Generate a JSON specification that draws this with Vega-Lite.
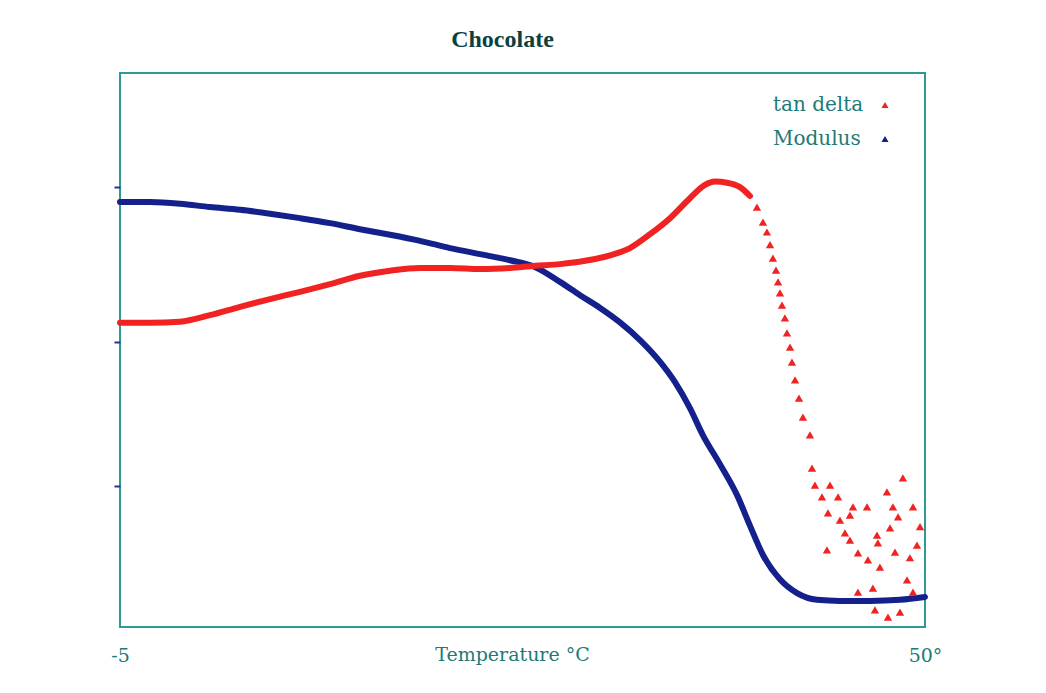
{
  "$schema": "https://vega.github.io/schema/vega-lite/v6.json",
  "autosize": {"type": "none"},
  "width": 805,
  "height": 554,
  "padding": {"left": 120, "top": 73, "right": 121, "bottom": 66},
  "background": "white",
  "title": {
    "text": "Chocolate",
    "font": "Liberation Serif",
    "fontSize": 24,
    "fontWeight": "bold",
    "color": "#0c3f3f",
    "anchor": "middle",
    "offset": 21,
    "dx": -20
  },
  "config": {
    "view": {"stroke": "#2e9a96", "strokeWidth": 2},
    "axis": {"grid": false, "domain": false}
  },
  "data": {
    "values": [
      {"series": "Modulus", "temp": -5.0, "value": 76.7},
      {"series": "Modulus", "temp": -2.95, "value": 76.7},
      {"series": "Modulus", "temp": -0.9, "value": 76.4},
      {"series": "Modulus", "temp": 1.15, "value": 75.8},
      {"series": "Modulus", "temp": 3.2, "value": 75.3},
      {"series": "Modulus", "temp": 5.25, "value": 74.6},
      {"series": "Modulus", "temp": 7.3, "value": 73.8},
      {"series": "Modulus", "temp": 9.35, "value": 72.9},
      {"series": "Modulus", "temp": 11.4, "value": 71.8},
      {"series": "Modulus", "temp": 13.45, "value": 70.8},
      {"series": "Modulus", "temp": 15.5, "value": 69.7},
      {"series": "Modulus", "temp": 17.55, "value": 68.4},
      {"series": "Modulus", "temp": 19.6, "value": 67.3},
      {"series": "Modulus", "temp": 21.65, "value": 66.2},
      {"series": "Modulus", "temp": 23.35, "value": 65.0},
      {"series": "Modulus", "temp": 25.06, "value": 62.3},
      {"series": "Modulus", "temp": 26.43, "value": 59.9},
      {"series": "Modulus", "temp": 27.8, "value": 57.6},
      {"series": "Modulus", "temp": 29.16, "value": 55.0},
      {"series": "Modulus", "temp": 30.53, "value": 51.8},
      {"series": "Modulus", "temp": 31.89, "value": 47.9},
      {"series": "Modulus", "temp": 32.92, "value": 44.2},
      {"series": "Modulus", "temp": 33.94, "value": 39.5},
      {"series": "Modulus", "temp": 34.83, "value": 34.6},
      {"series": "Modulus", "temp": 35.99, "value": 29.4},
      {"series": "Modulus", "temp": 37.16, "value": 23.8},
      {"series": "Modulus", "temp": 38.04, "value": 18.3},
      {"series": "Modulus", "temp": 38.93, "value": 13.0},
      {"series": "Modulus", "temp": 40.09, "value": 8.6},
      {"series": "Modulus", "temp": 41.26, "value": 6.1},
      {"series": "Modulus", "temp": 42.62, "value": 4.9},
      {"series": "Modulus", "temp": 44.19, "value": 4.7},
      {"series": "Modulus", "temp": 46.24, "value": 4.7},
      {"series": "Modulus", "temp": 48.29, "value": 4.9},
      {"series": "Modulus", "temp": 50.0, "value": 5.4},
      {"series": "tan delta", "temp": -5.0, "value": 54.9},
      {"series": "tan delta", "temp": -2.95, "value": 54.9},
      {"series": "tan delta", "temp": -0.9, "value": 55.1},
      {"series": "tan delta", "temp": 1.15, "value": 56.3},
      {"series": "tan delta", "temp": 3.2, "value": 57.8},
      {"series": "tan delta", "temp": 5.25, "value": 59.2},
      {"series": "tan delta", "temp": 7.3, "value": 60.5},
      {"series": "tan delta", "temp": 9.35, "value": 61.9},
      {"series": "tan delta", "temp": 11.4, "value": 63.4},
      {"series": "tan delta", "temp": 13.45, "value": 64.3},
      {"series": "tan delta", "temp": 15.5, "value": 64.8},
      {"series": "tan delta", "temp": 17.55, "value": 64.8},
      {"series": "tan delta", "temp": 19.6, "value": 64.6},
      {"series": "tan delta", "temp": 21.65, "value": 64.8},
      {"series": "tan delta", "temp": 23.35, "value": 65.2},
      {"series": "tan delta", "temp": 25.06, "value": 65.5},
      {"series": "tan delta", "temp": 26.77, "value": 66.1},
      {"series": "tan delta", "temp": 28.48, "value": 67.1},
      {"series": "tan delta", "temp": 29.84, "value": 68.4},
      {"series": "tan delta", "temp": 31.21, "value": 70.9},
      {"series": "tan delta", "temp": 32.58, "value": 73.8},
      {"series": "tan delta", "temp": 33.94, "value": 77.4},
      {"series": "tan delta", "temp": 34.97, "value": 79.8},
      {"series": "tan delta", "temp": 35.65, "value": 80.4},
      {"series": "tan delta", "temp": 36.47, "value": 80.2},
      {"series": "tan delta", "temp": 37.36, "value": 79.4},
      {"series": "tan delta", "temp": 38.04, "value": 77.8},
      {"series": "tan delta", "temp": 38.52, "value": 75.8},
      {"series": "tan delta", "temp": 38.93, "value": 73.1},
      {"series": "tan delta", "temp": 39.2, "value": 71.3},
      {"series": "tan delta", "temp": 39.41, "value": 69.0},
      {"series": "tan delta", "temp": 39.61, "value": 66.6},
      {"series": "tan delta", "temp": 39.82, "value": 64.4},
      {"series": "tan delta", "temp": 39.96, "value": 62.3},
      {"series": "tan delta", "temp": 40.09, "value": 60.3},
      {"series": "tan delta", "temp": 40.23, "value": 58.1},
      {"series": "tan delta", "temp": 40.43, "value": 55.8},
      {"series": "tan delta", "temp": 40.57, "value": 53.1},
      {"series": "tan delta", "temp": 40.78, "value": 50.5},
      {"series": "tan delta", "temp": 40.91, "value": 47.8},
      {"series": "tan delta", "temp": 41.12, "value": 44.6},
      {"series": "tan delta", "temp": 41.39, "value": 41.3},
      {"series": "tan delta", "temp": 41.66, "value": 37.9},
      {"series": "tan delta", "temp": 42.14, "value": 34.7},
      {"series": "tan delta", "temp": 42.28, "value": 28.7},
      {"series": "tan delta", "temp": 42.48, "value": 25.6},
      {"series": "tan delta", "temp": 42.96, "value": 23.5},
      {"series": "tan delta", "temp": 43.51, "value": 25.6},
      {"series": "tan delta", "temp": 44.06, "value": 23.5},
      {"series": "tan delta", "temp": 43.37, "value": 20.6},
      {"series": "tan delta", "temp": 44.19, "value": 19.3},
      {"series": "tan delta", "temp": 44.87, "value": 20.2},
      {"series": "tan delta", "temp": 45.08, "value": 21.7},
      {"series": "tan delta", "temp": 46.04, "value": 21.7},
      {"series": "tan delta", "temp": 43.3, "value": 13.9},
      {"series": "tan delta", "temp": 44.53, "value": 17.0},
      {"series": "tan delta", "temp": 44.87, "value": 15.7},
      {"series": "tan delta", "temp": 45.42, "value": 13.4},
      {"series": "tan delta", "temp": 46.1, "value": 12.1},
      {"series": "tan delta", "temp": 46.72, "value": 16.6},
      {"series": "tan delta", "temp": 46.78, "value": 15.2},
      {"series": "tan delta", "temp": 46.92, "value": 10.8},
      {"series": "tan delta", "temp": 47.4, "value": 24.4},
      {"series": "tan delta", "temp": 47.81, "value": 21.7},
      {"series": "tan delta", "temp": 48.16, "value": 19.9},
      {"series": "tan delta", "temp": 47.61, "value": 17.9},
      {"series": "tan delta", "temp": 47.95, "value": 13.5},
      {"series": "tan delta", "temp": 48.49, "value": 26.9},
      {"series": "tan delta", "temp": 49.18, "value": 21.7},
      {"series": "tan delta", "temp": 49.66, "value": 18.1},
      {"series": "tan delta", "temp": 49.45, "value": 14.8},
      {"series": "tan delta", "temp": 48.97, "value": 12.5},
      {"series": "tan delta", "temp": 48.77, "value": 8.5},
      {"series": "tan delta", "temp": 45.42, "value": 6.3},
      {"series": "tan delta", "temp": 46.44, "value": 7.0},
      {"series": "tan delta", "temp": 49.18, "value": 6.3},
      {"series": "tan delta", "temp": 47.47, "value": 1.8},
      {"series": "tan delta", "temp": 48.29, "value": 2.7},
      {"series": "tan delta", "temp": 46.58, "value": 3.1}
    ]
  },
  "encoding": {
    "x": {
      "field": "temp",
      "type": "quantitative",
      "scale": {"domain": [-5, 50], "nice": false, "zero": false},
      "axis": {
        "values": [-5, 50],
        "labelExpr": "datum.value == 50 ? '50°' : '-5'",
        "ticks": false,
        "labelFlush": false,
        "labelFont": "DejaVu Serif",
        "labelFontSize": 19,
        "labelColor": "#1d7a76",
        "labelBaseline": "alphabetic",
        "labelPadding": 34,
        "title": "Temperature °C",
        "titleFont": "DejaVu Serif",
        "titleFontSize": 19,
        "titleFontWeight": "normal",
        "titleColor": "#1d7a76",
        "titleBaseline": "alphabetic",
        "titleX": 392,
        "titleY": 33
      }
    },
    "y": {
      "field": "value",
      "type": "quantitative",
      "scale": {"domain": [0, 100], "nice": false},
      "axis": {
        "values": [25.5, 51.4, 79.4],
        "labels": false,
        "ticks": true,
        "tickColor": "#1a3a9a",
        "tickSize": 6,
        "tickWidth": 2,
        "title": null
      }
    }
  },
  "layer": [
    {
      "transform": [{"filter": "datum.series == 'Modulus'"}],
      "mark": {"type": "line", "color": "#14208c", "strokeWidth": 6, "interpolate": "monotone", "strokeJoin": "round", "strokeCap": "round"}
    },
    {
      "transform": [{"filter": "datum.series == 'tan delta' && datum.temp <= 38.05"}],
      "mark": {"type": "line", "color": "#f02222", "strokeWidth": 6, "interpolate": "monotone", "strokeJoin": "round", "strokeCap": "round"}
    },
    {
      "transform": [{"filter": "datum.series == 'tan delta' && datum.temp > 38.05"}],
      "mark": {"type": "point", "shape": "triangle-up", "filled": true, "size": 70, "opacity": 1},
      "encoding": {
        "color": {
          "field": "series",
          "type": "nominal",
          "scale": {"domain": ["tan delta", "Modulus"], "range": ["#f02222", "#14208c"]},
          "legend": {
            "title": null,
            "orient": "none",
            "legendX": 755,
            "legendY": 22,
            "padding": 0,
            "symbolType": "triangle-up",
            "symbolSize": 50,
            "symbolStrokeWidth": 0,
            "labelFont": "DejaVu Serif",
            "labelFontSize": 20,
            "labelColor": "#1d7a76",
            "labelOffset": -122,
            "labelAlign": "left",
            "rowPadding": 14
          }
        }
      }
    }
  ]
}
